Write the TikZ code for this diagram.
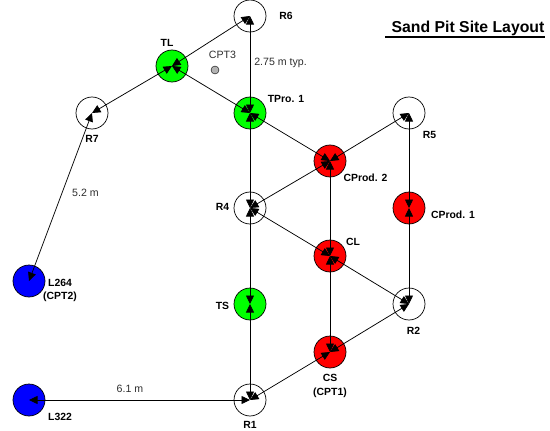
\documentclass[tikz,border=0pt]{standalone}
\usepackage{fontspec}
\setmainfont{Liberation Sans}
\usetikzlibrary{arrows.meta}
\definecolor{grn}{RGB}{0,255,0}
\definecolor{rd}{RGB}{255,0,0}
\definecolor{blu}{RGB}{0,0,255}
\definecolor{txt}{RGB}{45,45,45}
\tikzset{
 x=1pt,y=-1pt,
 well/.style={circle,draw=black,line width=0.7pt,minimum size=32pt,inner sep=0pt},
 wgreen/.style={well,fill=grn},
 wred/.style={well,fill=rd},
 wblue/.style={well,fill=blu},
 wwhite/.style={well,fill=white},
 link/.style={line width=0.75pt,black,{Triangle[length=8.5pt,width=8pt]}-{Triangle[length=8.5pt,width=8pt]}},
 blab/.style={font=\bfseries\fontsize{10.4}{13.5}\selectfont,text=black,inner sep=0pt,align=center},
 dlab/.style={font=\fontsize{10.6}{12}\selectfont,text=txt,inner sep=0pt},
}
\begin{document}
\begin{tikzpicture}
\useasboundingbox (0,0) rectangle (550,431);
\node[wwhite] (R6) at (250,16) {};
\node[wgreen] (TL) at (172,66) {};
\node[wgreen] (TP) at (250,113) {};
\node[wwhite] (R7) at (92,113) {};
\node[wwhite] (R5) at (409,113) {};
\node[wred] (CP2) at (330,161) {};
\node[wwhite] (R4) at (250,208) {};
\node[wred] (CP1) at (409,208) {};
\node[wred] (CL) at (330,256) {};
\node[wwhite] (R2) at (409,304) {};
\node[wgreen] (TS) at (250,304) {};
\node[wred] (CS) at (330,352) {};
\node[wwhite] (R1) at (250,400) {};
\node[wblue] (L264) at (29,281) {};
\node[wblue] (L322) at (29,400) {};
\node[circle,draw=black,line width=0.4pt,fill=black!30,minimum size=8pt,inner sep=0pt] (CPT3) at (215,70) {};
\foreach \a/\b in {R6/TL,R6/TP,TL/R7,TL/TP,TP/CP2,CP2/R5,R5/CP1,CP2/R4,CP2/CL,R4/TP,R4/TS,R4/CL,CL/R2,CL/CS,R2/CP1,R2/CS,TS/R1,CS/R1,R1/L322,R7/L264}
  \draw[link] (\a.center) -- (\b.center);
\node[blab] (tR6) at (286,16) {R6};
\node[blab] (tTL) at (167,43) {TL};
\node[blab] (tTP) at (286,99) {TPro. 1};
\node[blab] (tR7) at (92,139) {R7};
\node[blab] (tR5) at (429.5,135) {R5};
\node[blab] (tCP2) at (365.5,178) {CProd. 2};
\node[blab] (tR4) at (222.5,207) {R4};
\node[blab] (tCP1) at (453,215) {CProd. 1};
\node[blab] (tCL) at (353,242) {CL};
\node[blab] (tTS) at (222.5,306) {TS};
\node[blab] (tR2) at (413.5,331) {R2};
\node[blab] (tL264) at (60,290.5) {L264\\(CPT2)};
\node[blab] (tCS) at (330,386) {CS\\(CPT1)};
\node[blab] (tL322) at (60,417) {L322};
\node[blab] (tR1) at (250,425) {R1};
\node[dlab] (tCPT3) at (222.5,55) {CPT3};
\node[dlab] (t275) at (280.5,63) {2.75 m typ.};
\node[dlab] (t52) at (85.5,193) {5.2 m};
\node[dlab] (t61) at (130,389) {6.1 m};
\node[font=\bfseries\fontsize{15.8}{18}\selectfont,text=black,inner sep=0pt] (title) at (468,28) {Sand Pit Site Layout};
\coordinate (ul) at (385,37);
\coordinate (ur) at (545,37);
\draw[line width=1.3pt,black] (ul) -- (ur);
\end{tikzpicture}
\end{document}
